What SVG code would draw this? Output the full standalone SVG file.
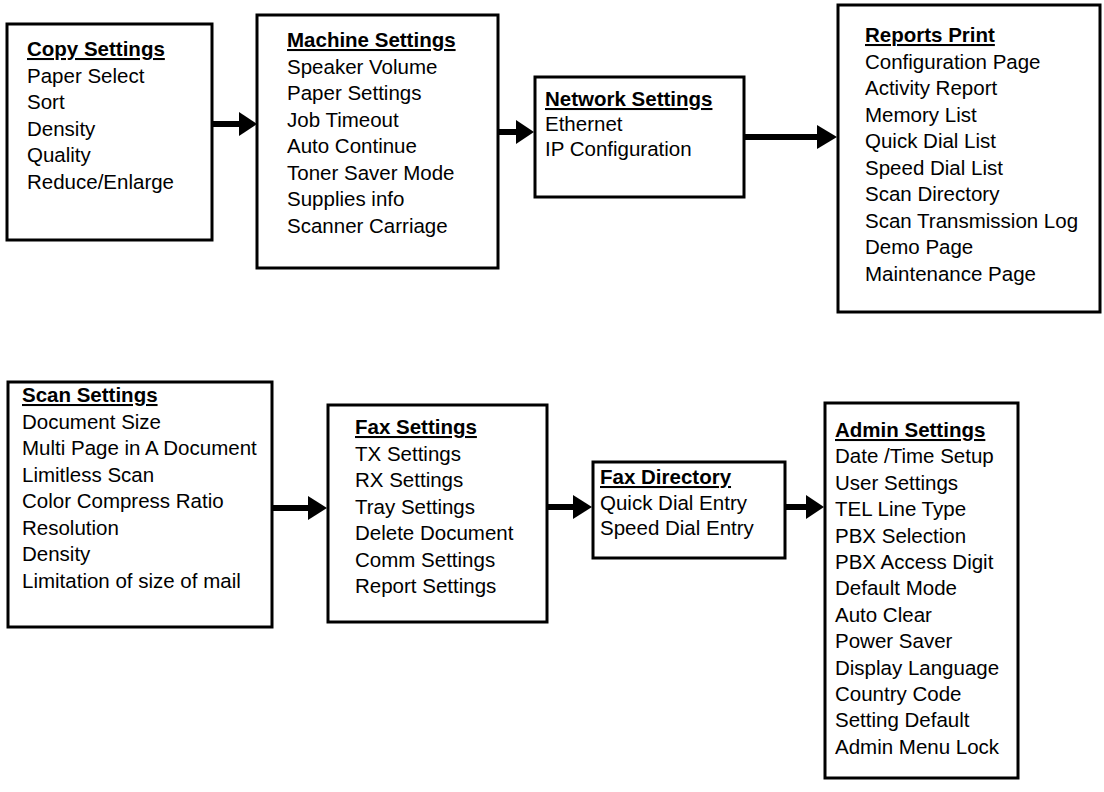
<svg xmlns="http://www.w3.org/2000/svg" width="1104" height="792" viewBox="0 0 1104 792">
<style>
  .box { fill: #fff; stroke: #000; stroke-width: 3; }
  text { font-family: "Liberation Sans", Arial, sans-serif; font-size: 20.5px; fill: #000; }
  .hd { font-weight: bold; text-decoration: underline; }
  .conn line { stroke: #000; stroke-width: 6; }
  .conn polygon { fill: #000; }
</style>
<rect width="1104" height="792" fill="#fff"/>

<g id="copy-settings">
  <rect class="box" x="7" y="24" width="205" height="216"/>
  <text x="27" y="56" class="hd">Copy Settings</text>
  <text x="27" y="82.5">Paper Select</text>
  <text x="27" y="109">Sort</text>
  <text x="27" y="135.5">Density</text>
  <text x="27" y="162">Quality</text>
  <text x="27" y="188.5">Reduce/Enlarge</text>
</g>

<g id="machine-settings">
  <rect class="box" x="257" y="15" width="241" height="253"/>
  <text x="287" y="47" class="hd">Machine Settings</text>
  <text x="287" y="73.5">Speaker Volume</text>
  <text x="287" y="100">Paper Settings</text>
  <text x="287" y="126.5">Job Timeout</text>
  <text x="287" y="153">Auto Continue</text>
  <text x="287" y="179.5">Toner Saver Mode</text>
  <text x="287" y="206">Supplies info</text>
  <text x="287" y="232.5">Scanner Carriage</text>
</g>

<g id="network-settings">
  <rect class="box" x="535" y="77" width="209" height="120"/>
  <text x="545" y="106" class="hd">Network Settings</text>
  <text x="545" y="131">Ethernet</text>
  <text x="545" y="156">IP Configuration</text>
</g>

<g id="reports-print">
  <rect class="box" x="838" y="5" width="262" height="307"/>
  <text x="865" y="42" class="hd">Reports Print</text>
  <text x="865" y="68.5">Configuration Page</text>
  <text x="865" y="95">Activity Report</text>
  <text x="865" y="121.5">Memory List</text>
  <text x="865" y="148">Quick Dial List</text>
  <text x="865" y="174.5">Speed Dial List</text>
  <text x="865" y="201">Scan Directory</text>
  <text x="865" y="227.5">Scan Transmission Log</text>
  <text x="865" y="254">Demo Page</text>
  <text x="865" y="280.5">Maintenance Page</text>
</g>

<g id="scan-settings">
  <rect class="box" x="8" y="382" width="264" height="245"/>
  <text x="22" y="402" class="hd">Scan Settings</text>
  <text x="22" y="428.5">Document Size</text>
  <text x="22" y="455">Multi Page in A Document</text>
  <text x="22" y="481.5">Limitless Scan</text>
  <text x="22" y="508">Color Compress Ratio</text>
  <text x="22" y="534.5">Resolution</text>
  <text x="22" y="561">Density</text>
  <text x="22" y="587.5">Limitation of size of mail</text>
</g>

<g id="fax-settings">
  <rect class="box" x="328" y="405" width="219" height="217"/>
  <text x="355" y="434" class="hd">Fax Settings</text>
  <text x="355" y="460.5">TX Settings</text>
  <text x="355" y="487">RX Settings</text>
  <text x="355" y="513.5">Tray Settings</text>
  <text x="355" y="540">Delete Document</text>
  <text x="355" y="566.5">Comm Settings</text>
  <text x="355" y="593">Report Settings</text>
</g>

<g id="fax-directory">
  <rect class="box" x="593" y="462" width="192" height="96"/>
  <text x="600" y="484" class="hd">Fax Directory</text>
  <text x="600" y="509.5">Quick Dial Entry</text>
  <text x="600" y="535">Speed Dial Entry</text>
</g>

<g id="admin-settings">
  <rect class="box" x="825" y="403" width="193" height="375"/>
  <text x="835" y="437" class="hd">Admin Settings</text>
  <text x="835" y="463.4">Date /Time Setup</text>
  <text x="835" y="489.8">User Settings</text>
  <text x="835" y="516.2">TEL Line Type</text>
  <text x="835" y="542.6">PBX Selection</text>
  <text x="835" y="569">PBX Access Digit</text>
  <text x="835" y="595.4">Default Mode</text>
  <text x="835" y="621.8">Auto Clear</text>
  <text x="835" y="648.2">Power Saver</text>
  <text x="835" y="674.6">Display Language</text>
  <text x="835" y="701">Country Code</text>
  <text x="835" y="727.4">Setting Default</text>
  <text x="835" y="753.8">Admin Menu Lock</text>
</g>

<g id="connectors" class="conn">
  <line x1="212" y1="124" x2="241" y2="124"/>
  <polygon points="239,112 257,124 239,136"/>
  <line x1="498" y1="132" x2="518" y2="132"/>
  <polygon points="516,120 534,132 516,144"/>
  <line x1="744" y1="137" x2="819" y2="137"/>
  <polygon points="817,125 837,137 817,149"/>
  <line x1="272" y1="508" x2="310" y2="508"/>
  <polygon points="308,496 327,508 308,520"/>
  <line x1="547" y1="507" x2="575" y2="507"/>
  <polygon points="573,495 592,507 573,519"/>
  <line x1="785" y1="507" x2="808" y2="507"/>
  <polygon points="806,495 824,507 806,519"/>
</g>
</svg>
